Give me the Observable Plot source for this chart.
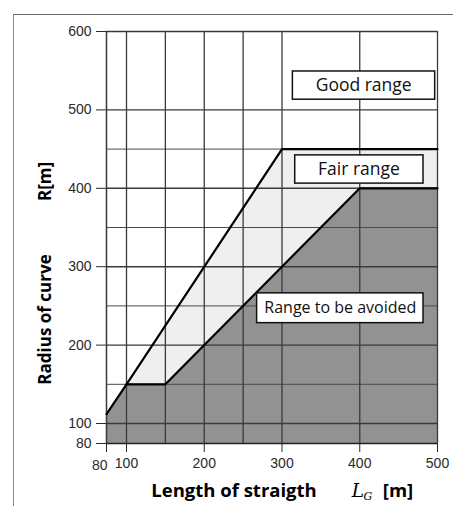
<!DOCTYPE html>
<html>
<head>
<meta charset="utf-8">
<script src="https://cdn.jsdelivr.net/npm/d3@7"></script>
<script src="https://cdn.jsdelivr.net/npm/@observablehq/plot@0.6"></script>
<style>
  html, body { margin: 0; padding: 0; background: #fff; }
  #wrap { position: relative; width: 453px; height: 506px; overflow: hidden; }
  #frame { position: absolute; left: 13px; top: 14px; width: 460px; height: 520px;
           border-left: 1.5px solid #8a8a8a; border-top: 1.5px solid #6a6a6a; }
  #chart { position: absolute; left: 0; top: 0; }
</style>
</head>
<body>
<div id="wrap"><div id="frame"></div><div id="chart"></div></div>
<script>
// ---- data (chart units: length of straight L_G [m], radius R [m]) ----
const xTicks = [80, 100, 200, 300, 400, 500];
const yTicks = [80, 100, 200, 300, 400, 500, 600];
const xGrid = [100, 150, 200, 250, 300, 400, 500];
const yGridMajor = [100, 200, 300, 400, 500, 600];
const yGridMinor = [150, 250, 350, 450];

// upper boundary (good / fair)
const upperX = [80, 100, 300, 500];
const upperR = [112, 150, 450, 450];
// lower boundary (fair / avoided)
const lowerX = [80, 100, 150, 400, 500];
const lowerR = [112, 150, 150, 400, 400];

// region labels and their boxes (chart units)
const labels = ["Good range", "Fair range", "Range to be avoided"];
const labelX = [405, 399, 375];
const labelR = [531, 424, 247];
const boxX1 = [314, 317, 268];
const boxX2 = [497, 482, 482];
const boxR1 = [513, 406, 228];
const boxR2 = [549, 442, 266];

const upper = upperX.map((x, i) => ({x, r: upperR[i]}));
const lower = lowerX.map((x, i) => ({x, r: lowerR[i]}));
const boxes = labels.map((t, i) => ({t, x: labelX[i], r: labelR[i], x1: boxX1[i], x2: boxX2[i], r1: boxR1[i], r2: boxR2[i]}));

const sans = "'Open Sans', 'Noto Sans', sans-serif";
const gridColor = "#3a3a3a";
const mid = {textAnchor: "middle", lineAnchor: "middle"};

const chart = Plot.plot({
  width: 453,
  height: 506,
  marginLeft: 106, marginRight: 16, marginTop: 31, marginBottom: 63,
  style: {fontFamily: "'Liberation Sans', Arial, sans-serif", fontSize: "14px", color: "#2a2a2a", background: "transparent", overflow: "visible"},
  x: {type: "linear", domain: [80, 100, 500], range: [106, 126, 437], ticks: xTicks, tickSize: 9, tickPadding: 6,
      tickFormat: d => d === 80 ? "" : String(d), label: null},
  y: {type: "linear", domain: [80, 100, 600], range: [443, 423, 31], ticks: yTicks, tickSize: 10, tickPadding: 5,
      label: null},
  marks: [
    // fair range (light stipple) under the upper boundary
    Plot.areaY(upper, {x: "x", y1: 80, y2: "r", fill: "#efefef"}),
    // range to be avoided (dark)
    Plot.areaY(lower, {x: "x", y1: 80, y2: "r", fill: "#929292"}),
    // grid
    Plot.ruleY(yGridMinor, {x1: 80, x2: 500, stroke: "#4a4a4a", strokeWidth: 1}),
    Plot.ruleY(yGridMajor, {x1: 80, x2: 500, stroke: gridColor, strokeWidth: 1.4}),
    Plot.ruleX(xGrid, {y1: 80, y2: 600, stroke: gridColor, strokeWidth: 1.3}),
    Plot.ruleX([80], {y1: 80, y2: 600, stroke: gridColor, strokeWidth: 1.5}),
    Plot.ruleY([80], {x1: 80, x2: 500, stroke: "#222", strokeWidth: 1.6}),
    // boundaries
    Plot.line(upper, {x: "x", y: "r", stroke: "#000", strokeWidth: 2.2}),
    Plot.line(lower.slice(1), {x: "x", y: "r", stroke: "#000", strokeWidth: 2.2}),
    // label boxes
    Plot.rect(boxes, {x1: "x1", x2: "x2", y1: "r1", y2: "r2", fill: "#fff", stroke: "#111", strokeWidth: 1.5}),
    Plot.text(boxes.slice(0, 2), {x: "x", y: "r", text: "t", ...mid, fontFamily: sans, fontSize: 17.5, fill: "#111"}),
    Plot.text(boxes.slice(2), {x: "x", y: "r", text: "t", ...mid, fontFamily: sans, fontSize: 16, fill: "#111"}),
    // "80" tick label, placed left of its tick
    Plot.text([80], {x: d => d, frameAnchor: "bottom", dy: 22, textAnchor: "end", lineAnchor: "middle", dx: 1, text: d => String(d), fontSize: 14, fill: "#2a2a2a"}),
    // axis titles
    Plot.text(["Radius of curve"], {frameAnchor: "left", dx: -61, dy: 82, rotate: -90, ...mid, fontFamily: sans, fontWeight: "bold", fontSize: 17, fill: "#000"}),
    Plot.text(["R[m]"], {frameAnchor: "left", dx: -61, dy: -56, rotate: -90, ...mid, fontFamily: sans, fontWeight: "bold", fontSize: 17, fill: "#000"}),
    Plot.text(["Length of straigth"], {frameAnchor: "bottom", dx: -38, dy: 48, ...mid, fontFamily: sans, fontWeight: "bold", fontSize: 18.5, fill: "#000"}),
    Plot.text(["L"], {frameAnchor: "bottom", dx: 86, dy: 48, ...mid, fontFamily: "'DejaVu Serif', serif", fontStyle: "italic", fontSize: 18.5, fill: "#000"}),
    Plot.text(["G"], {frameAnchor: "bottom", dx: 96, dy: 53, ...mid, fontFamily: "'DejaVu Serif', serif", fontStyle: "italic", fontSize: 11, fill: "#000"}),
    Plot.text(["[m]"], {frameAnchor: "bottom", dx: 126, dy: 48, ...mid, fontFamily: sans, fontWeight: "bold", fontSize: 18.5, fill: "#000"})
  ]
});
document.getElementById("chart").appendChild(chart);
</script>
</body>
</html>
